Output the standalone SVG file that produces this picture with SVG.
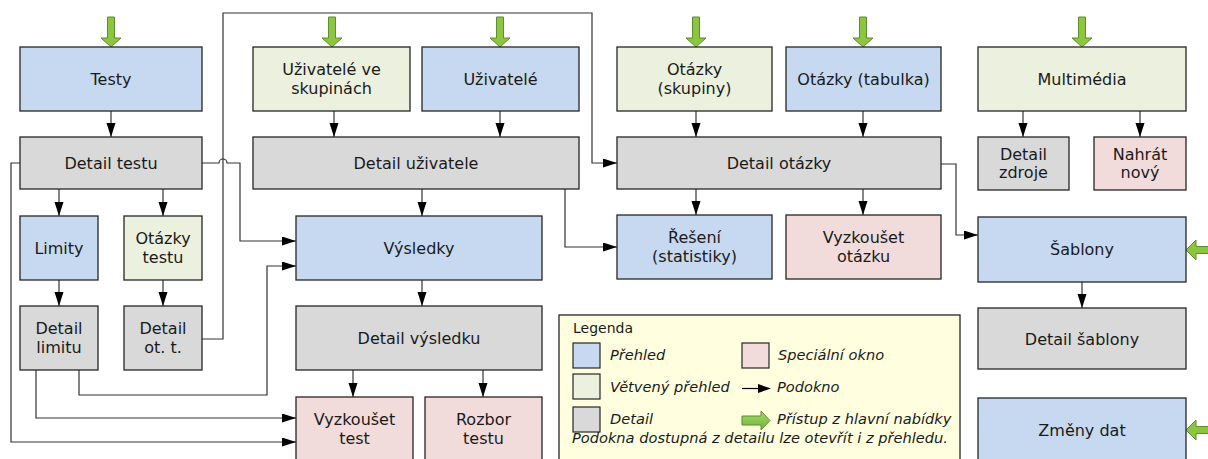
<svg xmlns="http://www.w3.org/2000/svg" width="1208" height="459" viewBox="0 0 1208 459">
<style>
.n rect{stroke:#262626;stroke-width:1.3}
.blue{fill:#C6D9F0}
.green{fill:#EBF1DE}
.gray{fill:#D9D9D9}
.pink{fill:#F2DCDB}
text{font-family:"DejaVu Sans","Verdana",sans-serif;font-size:16px;fill:#1a1a1a;text-anchor:middle}
.c path{fill:none;stroke:#333;stroke-width:1.2;marker-end:url(#ah)}
.g path{fill:#8CC63F;stroke:#5E8C31;stroke-width:1}
.lg text{font-size:14px;text-anchor:start}
.lg .i{font-style:italic;font-size:14.6px}
</style>
<defs>
<marker id="ah" markerUnits="userSpaceOnUse" markerWidth="14" markerHeight="10" refX="14" refY="4.5" orient="auto">
<path d="M0,0 L14,4.5 L0,9 Z" fill="#000"/>
</marker>
<linearGradient id="gg" x1="0" y1="0" x2="0" y2="1">
<stop offset="0" stop-color="#A6D86A"/><stop offset="1" stop-color="#72B536"/>
</linearGradient>
</defs>
<rect width="1208" height="459" fill="#fff"/>

<g id="legend" class="lg">
<rect x="559" y="315" width="401" height="150" fill="#FFFFE0" stroke="#262626" stroke-width="1.3"/>
<text x="573" y="333">Legenda</text>
<rect x="573" y="343" width="27" height="25" class="blue" stroke="#262626" stroke-width="1.2"/>
<text class="i" x="610" y="360">Přehled</text>
<rect x="742" y="343" width="27" height="25" class="pink" stroke="#262626" stroke-width="1.2"/>
<text class="i" x="778" y="360">Speciální okno</text>
<rect x="573" y="374" width="27" height="25" class="green" stroke="#262626" stroke-width="1.2"/>
<text class="i" x="610" y="392">Větvený přehled</text>
<path d="M742,388.5 H759" stroke="#000" stroke-width="1.2"/>
<path d="M758,384 L771,388.5 L758,393 Z" fill="#000"/>
<text class="i" x="777" y="392">Podokno</text>
<rect x="573" y="407" width="27" height="25" class="gray" stroke="#262626" stroke-width="1.2"/>
<text class="i" x="610" y="424">Detail</text>
<path d="M742,416 H761 V411 L770,420.5 L761,430 V425 H742 Z" fill="url(#gg)" stroke="#5E8C31" stroke-width="1"/>
<text class="i" x="777" y="424">Přístup z hlavní nabídky</text>
<text class="i" x="572" y="443">Podokna dostupná z detailu lze otevřít i z přehledu.</text>
</g>

<g id="connectors" class="c">
<path d="M111,111 V137"/>
<path d="M59,189 V216"/>
<path d="M163,189 V216"/>
<path d="M59,280 V306"/>
<path d="M163,280 V306"/>
<path d="M20,163 H11 V442 H296"/>
<path d="M202,163 H219 A4,4 0 0 1 227,163 H240 V241 H296"/>
<path d="M202,339 H223 V13 H592 V163 H617"/>
<path d="M36,370 V418 H296"/>
<path d="M79,370 V395 H267 V266 H296"/>
<path d="M334,111 V137"/>
<path d="M500,111 V137"/>
<path d="M422,189 V216"/>
<path d="M565,189 V247 H617"/>
<path d="M696,111 V137"/>
<path d="M863,111 V137"/>
<path d="M696,189 V215"/>
<path d="M863,189 V215"/>
<path d="M941,164 H956 V235 H978"/>
<path d="M1023,111 V137"/>
<path d="M1140,111 V137"/>
<path d="M1082,282 V308"/>
<path d="M422,280 V306"/>
<path d="M353,370 V397"/>
<path d="M483,370 V397"/>
</g>

<g id="menu-access" class="g">
<path d="M107.5,17 H114.5 V38 H121 L111,47 L101,38 H107.5 Z" fill="url(#gg)"/>
<path d="M328.5,17 H335.5 V38 H342 L332,47 L322,38 H328.5 Z" fill="url(#gg)"/>
<path d="M496.5,17 H503.5 V38 H510 L500,47 L490,38 H496.5 Z" fill="url(#gg)"/>
<path d="M692.5,17 H699.5 V38 H706 L696,47 L686,38 H692.5 Z" fill="url(#gg)"/>
<path d="M859.5,17 H866.5 V38 H873 L863,47 L853,38 H859.5 Z" fill="url(#gg)"/>
<path d="M1078.5,17 H1085.5 V38 H1092 L1082,47 L1072,38 H1078.5 Z" fill="url(#gg)"/>
<path d="M1209,246.5 H1196 V240 L1186,250 L1196,260 V253.5 H1209 Z" fill="url(#gg)"/>
<path d="M1209,426.5 H1196 V420 L1186,430 L1196,440 V433.5 H1209 Z" fill="url(#gg)"/>
</g>

<g id="testy" class="n"><rect x="20" y="47" width="182" height="64" class="blue"/><text x="111" y="85">Testy</text></g>
<g id="detail-testu" class="n"><rect x="20" y="137" width="182" height="52" class="gray"/><text x="111" y="169">Detail testu</text></g>
<g id="limity" class="n"><rect x="20" y="216" width="78" height="64" class="blue"/><text x="59" y="254">Limity</text></g>
<g id="otazky-testu" class="n"><rect x="124" y="216" width="78" height="64" class="green"/><text x="163" y="244">Otázky</text><text x="163" y="263">testu</text></g>
<g id="detail-limitu" class="n"><rect x="20" y="306" width="78" height="64" class="gray"/><text x="59" y="334">Detail</text><text x="59" y="353">limitu</text></g>
<g id="detail-ot-t" class="n"><rect x="124" y="306" width="78" height="64" class="gray"/><text x="163" y="334">Detail</text><text x="163" y="353">ot. t.</text></g>

<g id="uzivatele-ve-skupinach" class="n"><rect x="253" y="47" width="157" height="64" class="green"/><text x="331.5" y="74.5">Uživatelé ve</text><text x="331.5" y="93.5">skupinách</text></g>
<g id="uzivatele" class="n"><rect x="422" y="47" width="157" height="64" class="blue"/><text x="500.5" y="85">Uživatelé</text></g>
<g id="detail-uzivatele" class="n"><rect x="253" y="137" width="326" height="52" class="gray"/><text x="416" y="169">Detail uživatele</text></g>

<g id="vysledky" class="n"><rect x="296" y="216" width="246" height="64" class="blue"/><text x="419" y="254">Výsledky</text></g>
<g id="detail-vysledku" class="n"><rect x="296" y="306" width="246" height="64" class="gray"/><text x="419" y="344">Detail výsledku</text></g>
<g id="vyzkouset-test" class="n"><rect x="296" y="397" width="117" height="64" class="pink"/><text x="354.5" y="425">Vyzkoušet</text><text x="354.5" y="444">test</text></g>
<g id="rozbor-testu" class="n"><rect x="425" y="397" width="117" height="64" class="pink"/><text x="483.5" y="425">Rozbor</text><text x="483.5" y="444">testu</text></g>

<g id="otazky-skupiny" class="n"><rect x="617" y="47" width="155" height="64" class="green"/><text x="694.5" y="74.5">Otázky</text><text x="694.5" y="93.5">(skupiny)</text></g>
<g id="otazky-tabulka" class="n"><rect x="786" y="47" width="155" height="64" class="blue"/><text x="863.5" y="85">Otázky (tabulka)</text></g>
<g id="detail-otazky" class="n"><rect x="617" y="137" width="324" height="52" class="gray"/><text x="779" y="169">Detail otázky</text></g>
<g id="reseni" class="n"><rect x="617" y="215" width="155" height="64" class="blue"/><text x="694.5" y="243">Řešení</text><text x="694.5" y="262">(statistiky)</text></g>
<g id="vyzkouset-otazku" class="n"><rect x="786" y="215" width="155" height="64" class="pink"/><text x="863.5" y="243">Vyzkoušet</text><text x="863.5" y="262">otázku</text></g>

<g id="multimedia" class="n"><rect x="978" y="47" width="208" height="64" class="green"/><text x="1082" y="85">Multimédia</text></g>
<g id="detail-zdroje" class="n"><rect x="978" y="137" width="91" height="53" class="gray"/><text x="1023.5" y="159.5">Detail</text><text x="1023.5" y="178">zdroje</text></g>
<g id="nahrat-novy" class="n"><rect x="1094" y="137" width="92" height="53" class="pink"/><text x="1140" y="159.5">Nahrát</text><text x="1140" y="178">nový</text></g>
<g id="sablony" class="n"><rect x="978" y="217" width="208" height="65" class="blue"/><text x="1082" y="255">Šablony</text></g>
<g id="detail-sablony" class="n"><rect x="978" y="308" width="208" height="61" class="gray"/><text x="1082" y="344.5">Detail šablony</text></g>
<g id="zmeny-dat" class="n"><rect x="978" y="398" width="208" height="64" class="blue"/><text x="1082" y="436">Změny dat</text></g>
</svg>
